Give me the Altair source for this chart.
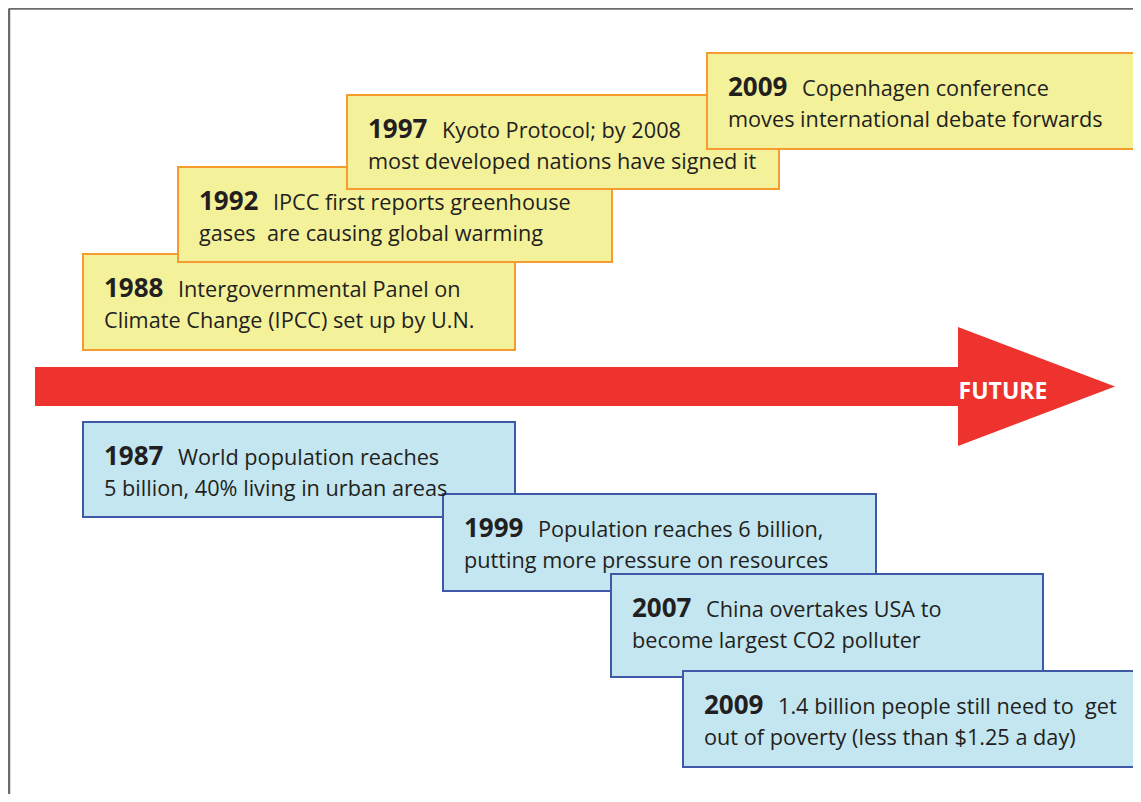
import altair as alt
import pandas as pd

# ---- content ----
years_top = ["1988", "1992", "1997", "2009"]
line1_top = ["Intergovernmental Panel on", "IPCC first reports greenhouse",
             "Kyoto Protocol; by 2008", "Copenhagen conference"]
line2_top = ["Climate Change (IPCC) set up by U.N.", "gases \u00a0are causing global warming",
             "most developed nations have signed it", "moves international debate forwards"]

years_bottom = ["1987", "1999", "2007", "2009"]
line1_bottom = ["World population reaches", "Population reaches 6 billion,",
                "China overtakes USA to", "1.4 billion people still need to \u00a0get"]
line2_bottom = ["5 billion, 40% living in urban areas", "putting more pressure on resources",
                "become largest CO2 polluter", "out of poverty (less than $1.25 a day)"]

arrow_label = ["FUTURE"]

# ---- layout (pixel positions of the boxes) ----
top_left = [83, 178, 347, 707]
top_right = [515, 612, 779, 1140]
top_top = [254, 167, 95, 53]
top_bottom = [350, 262, 189, 149]
bottom_left = [83, 443, 611, 683]
bottom_right = [515, 876, 1043, 1139]
bottom_top = [422, 494, 574, 671]
bottom_bottom = [517, 591, 677, 767]

W, H = 1125, 786
xs = alt.Scale(domain=[8, 8 + W], range=[0, W], zero=False, nice=False)
ys = alt.Scale(domain=[8, 8 + H], range=[0, H], zero=False, nice=False)

YEL_FILL, YEL_STROKE = "#F4F19B", "#F59B30"
BLU_FILL, BLU_STROKE = "#C3E6F0", "#3F59A9"
RED = "#EE332E"
TXT = "#231F20"

rows = []
for i in range(4):
    rows.append(dict(year=years_top[i], l1=line1_top[i], l2=line2_top[i],
                     x=top_left[i], x2=top_right[i], y=top_top[i], y2=top_bottom[i],
                     fill=YEL_FILL, stroke=YEL_STROKE, order=i))
for i in range(4):
    rows.append(dict(year=years_bottom[i], l1=line1_bottom[i], l2=line2_bottom[i],
                     x=bottom_left[i], x2=bottom_right[i], y=bottom_top[i], y2=bottom_bottom[i],
                     fill=BLU_FILL, stroke=BLU_STROKE, order=10 + i))
df = pd.DataFrame(rows)
df["tx"] = df["x"] + 21
df["dx1"] = df["x"] + 21 + 74
df["ty1"] = df["y"] + 43
df["ty2"] = df["y"] + 74

X = lambda f: alt.X(f, type="quantitative", scale=xs, axis=None)
Y = lambda f: alt.Y(f, type="quantitative", scale=ys, axis=None)

base = alt.Chart(df)

boxes = base.mark_rect(strokeWidth=2).encode(
    x=X("x"), x2="x2", y=Y("y"), y2="y2",
    fill=alt.Fill("fill:N", scale=None),
    stroke=alt.Stroke("stroke:N", scale=None),
    order=alt.Order("order:Q"),
)

year_txt = base.mark_text(align="left", baseline="alphabetic", font="Open Sans",
                          fontSize=26, fontWeight="bold", color=TXT).encode(
    x=X("tx"), y=Y("ty1"), text="year:N")
l1_txt = base.mark_text(align="left", baseline="alphabetic", font="Open Sans",
                        fontSize=21.7, color=TXT).encode(
    x=X("dx1"), y=Y("ty1"), text="l1:N")
l2_txt = base.mark_text(align="left", baseline="alphabetic", font="Open Sans",
                        fontSize=21.7, color=TXT).encode(
    x=X("tx"), y=Y("ty2"), text="l2:N")

# arrow
shaft_df = pd.DataFrame({"x": [35], "x2": [960], "y": [367], "y2": [406]})
shaft = alt.Chart(shaft_df).mark_rect(color=RED).encode(
    x=X("x"), x2="x2", y=Y("y"), y2="y2")
head_df = pd.DataFrame({"x": [958, 1115], "y": [327, 386.5], "y2": [446, 386.5]})
head = alt.Chart(head_df).mark_area(color=RED, opacity=1, interpolate="linear").encode(
    x=X("x"), y=Y("y"), y2="y2")
fut_df = pd.DataFrame({"x": [1003], "y": [399], "t": arrow_label})
fut = alt.Chart(fut_df).mark_text(align="center", baseline="alphabetic", font="Open Sans",
                                  fontSize=23, fontWeight="bold", color="white").encode(
    x=X("x"), y=Y("y"), text="t:N")

# frame
frame_df = pd.DataFrame({"x": [9, 9], "x2": [1141, 9], "y": [8.5, 8.5], "y2": [8.5, 802]})
frame = alt.Chart(frame_df).mark_rule(color="#6B6B6B", strokeWidth=2.5).encode(
    x=X("x"), x2="x2", y=Y("y"), y2="y2")

chart = alt.layer(frame, shaft, head, fut, boxes, year_txt, l1_txt, l2_txt).properties(
    width=W, height=H, autosize="none", padding=0, background="white"
).configure_view(stroke=None)

chart.save("out.html", embed_options={"renderer": "svg", "actions": False})
